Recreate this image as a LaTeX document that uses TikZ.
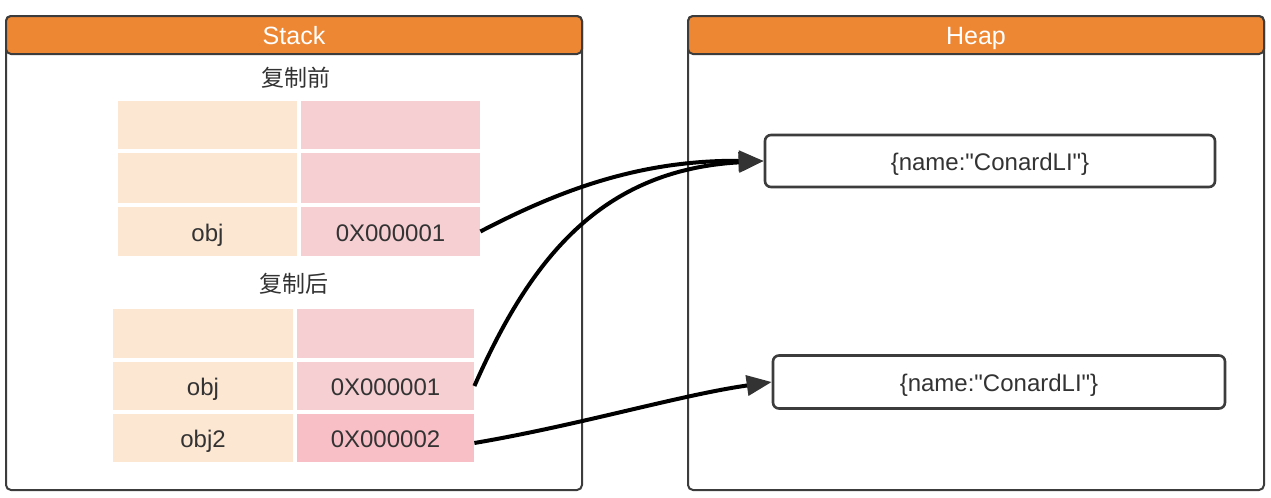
\documentclass[tikz,border=0pt]{standalone}
\usepackage{fontspec}
\setmainfont{Liberation Sans}[Ligatures=TeXOff]
\newfontfamily\cjk{Noto Sans CJK SC}
\usetikzlibrary{arrows.meta}
\definecolor{orangeh}{HTML}{EE8734}
\definecolor{peach}{HTML}{FCE7D3}
\definecolor{pinkc}{HTML}{F6CFD3}
\definecolor{pinkd}{HTML}{F9BFC6}
\definecolor{framec}{HTML}{3C3C3C}
\definecolor{txt}{HTML}{333333}
\begin{document}
\begin{tikzpicture}[x=0.5pt,y=-0.5pt,
  sz/.style 2 args={minimum width=#1*0.5pt, minimum height=#2*0.5pt, inner sep=0pt},
  fixtext/.style={text height=12pt, text depth=2.5pt},
  panel/.style={draw=framec, line width=1pt, fill=white, rounded corners=2.5pt},
  head/.style={draw=framec, line width=1pt, fill=orangeh, rounded corners=2.5pt, text=white, fixtext, font=\fontsize{12.5}{15}\selectfont},
  lcell/.style={fill=peach, text=txt, fixtext, font=\fontsize{12}{14}\selectfont},
  rcell/.style={fill=pinkc, text=txt, fixtext, font=\fontsize{12}{14}\selectfont},
  caption/.style={text=txt, font=\cjk\fontsize{11.5}{14}\selectfont},
  objbox/.style={draw=framec, line width=1.3pt, fill=white, rounded corners=3pt, text=txt, fixtext, font=\fontsize{12}{14}\selectfont},
  ptr/.style={line width=2pt, black, -{Triangle[length=12.5pt,width=10pt,color=black!80]}}
]
\useasboundingbox (0,0) rectangle (1271,498);

% Stack panel
\node[panel, sz={576}{474}] (stack) at (294,253) {};
\node[head, sz={576}{38}] (stackhead) at (294,35) {Stack};
\node[caption] (before) at (296,78) {复制前};
\node[lcell, sz={179}{48}] (a1) at (207.5,125) {};
\node[rcell, sz={179}{48}] (b1) at (390.5,125) {};
\node[lcell, sz={179}{50}] (a2) at (207.5,178) {};
\node[rcell, sz={179}{50}] (b2) at (390.5,178) {};
\node[lcell, sz={179}{49}] (a3) at (207.5,231.5) {obj};
\node[rcell, sz={179}{49}] (p1) at (390.5,231.5) {0X000001};

\node[caption] (after) at (294,284) {复制后};
\node[lcell, sz={180}{49}] (c1) at (203,333.5) {};
\node[rcell, sz={177}{49}] (d1) at (385.5,333.5) {};
\node[lcell, sz={180}{48}] (c2) at (203,386) {obj};
\node[rcell, sz={177}{48}] (p2) at (385.5,386) {0X000001};
\node[lcell, sz={180}{48}] (c3) at (203,438) {obj2};
\node[rcell, fill=pinkd, sz={177}{48}] (p3) at (385.5,438) {0X000002};

% Heap panel
\node[panel, sz={576}{474}] (heap) at (976,253) {};
\node[head, sz={576}{38}] (heaphead) at (976,35) {Heap};
\node[objbox, sz={450}{52}] (h1) at (990,161) {\{name:"ConardLI"\}};
\node[objbox, sz={452}{53}] (h2) at (999,382) {\{name:"ConardLI"\}};

% pointers
\draw[ptr] (p1.east) .. controls (560,190) and (640,160) .. (h1.west);
\draw[ptr] (p2.east) .. controls (530,260) and (600,170) .. (h1.west);
\draw[ptr] ([yshift=-2.5pt]p3.east) .. controls (580,425) and (680,395) .. (h2.west);
\end{tikzpicture}
\end{document}
